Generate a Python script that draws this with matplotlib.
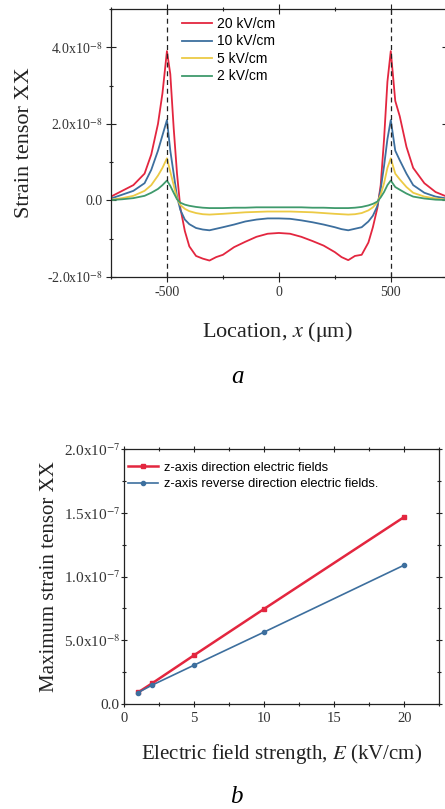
import numpy as np
import matplotlib
matplotlib.use('Agg')
import matplotlib.pyplot as plt
from matplotlib.ticker import FixedLocator, MultipleLocator, FuncFormatter

plt.rcParams['font.family'] = ['Liberation Serif', 'DejaVu Serif']
plt.rcParams['mathtext.fontset'] = 'stix'
plt.rcParams['axes.unicode_minus'] = False

# --- panel a data (strain in units of 1e-8) ---
loc_x = [-750, -700, -650, -600, -570, -540, -520, -500, -485, -470, -455, -440, -420, -400,
         -370, -340, -310, -280, -250, -200, -150, -100, -50, 0, 50, 100, 150, 200, 250, 280,
         310, 340, 370, 400, 420, 440, 455, 470, 485, 500, 520, 540, 570, 600, 650, 700, 750]
strain_20 = [0.10, 0.25, 0.40, 0.70, 1.20, 2.00, 2.80, 3.90, 3.30, 1.90, 0.70, -0.20, -0.80, -1.20,
             -1.45, -1.52, -1.57, -1.48, -1.42, -1.22, -1.08, -0.95, -0.87, -0.85, -0.87, -0.95, -1.06, -1.18, -1.35, -1.48,
             -1.56, -1.45, -1.42, -1.10, -0.70, -0.20, 0.40, 1.60, 3.10, 3.90, 2.60, 2.20, 1.40, 0.85, 0.45, 0.22, 0.10]
strain_10 = [0.05, 0.15, 0.25, 0.45, 0.80, 1.30, 1.70, 2.10, 1.30, 0.70, 0.10, -0.25, -0.50, -0.62,
             -0.72, -0.76, -0.78, -0.74, -0.70, -0.63, -0.55, -0.50, -0.47, -0.47, -0.48, -0.52, -0.57, -0.63, -0.70, -0.75,
             -0.78, -0.74, -0.70, -0.55, -0.40, -0.15, 0.30, 0.90, 1.60, 2.10, 1.30, 1.05, 0.70, 0.40, 0.20, 0.10, 0.05]
strain_5 = [0.02, 0.06, 0.12, 0.25, 0.40, 0.65, 0.85, 1.10, 0.75, 0.40, 0.05, -0.12, -0.22, -0.28,
            -0.33, -0.36, -0.37, -0.36, -0.35, -0.33, -0.31, -0.30, -0.29, -0.29, -0.29, -0.30, -0.31, -0.33, -0.35, -0.36,
            -0.37, -0.36, -0.33, -0.26, -0.18, -0.05, 0.15, 0.45, 0.85, 1.10, 0.70, 0.55, 0.35, 0.20, 0.10, 0.05, 0.02]
strain_2 = [0.01, 0.03, 0.06, 0.12, 0.20, 0.30, 0.40, 0.52, 0.38, 0.20, 0.03, -0.06, -0.11, -0.14,
            -0.17, -0.19, -0.20, -0.20, -0.20, -0.19, -0.19, -0.18, -0.18, -0.18, -0.18, -0.18, -0.19, -0.19, -0.20, -0.20,
            -0.20, -0.19, -0.17, -0.13, -0.09, -0.03, 0.08, 0.22, 0.40, 0.52, 0.35, 0.28, 0.18, 0.10, 0.05, 0.02, 0.01]
series_labels = ['20 kV/cm', '10 kV/cm', '5 kV/cm', '2 kV/cm']
series_colors = ['#e3263f', '#3d6f9e', '#ecca45', '#3f9a6c']

# --- panel b data ---
field_E = [1, 2, 5, 10, 20]
max_strain_fwd = [0.91e-8, 1.62e-8, 3.83e-8, 7.47e-8, 1.469e-7]
max_strain_rev = [0.90e-8, 1.48e-8, 3.05e-8, 5.65e-8, 1.091e-7]


def sci_fmt(v, pos):
    if abs(v) < 1e-15:
        return '0.0'
    exp = int(np.floor(np.log10(abs(v))))
    mant = v / 10 ** exp
    return r'%.1fx10$^{%d}$' % (mant, exp)


def style_ax(ax, xsize, ysize, ypad, maj_len):
    ax.tick_params(which='both', direction='inout', top=True, right=True,
                   labelcolor='#333333', width=0.8, color='#222222')
    ax.tick_params(which='major', length=maj_len)
    ax.tick_params(which='minor', length=maj_len * 0.5)
    ax.tick_params(axis='x', labelsize=xsize, pad=3)
    ax.tick_params(axis='y', labelsize=ysize, pad=ypad)
    for s in ax.spines.values():
        s.set_linewidth(0.9)
        s.set_color('#222222')


fig = plt.figure(figsize=(4.45, 8.09), dpi=100)

# panel a
ax1 = fig.add_axes([0.2494, 0.6576, 0.7545, 0.3313])
yscale = 1e-8
for ys, lab, col in zip([strain_20, strain_10, strain_5, strain_2], series_labels, series_colors):
    ax1.plot(loc_x, np.array(ys) * yscale, color=col, lw=1.3, label=lab)
ax1.axvline(-500, color='#222222', ls='--', lw=0.9, dashes=(4, 3))
ax1.axvline(500, color='#222222', ls='--', lw=0.9, dashes=(4, 3))
ax1.set_xlim(-750, 750)
ax1.set_ylim(-2e-8, 5e-8)
ax1.xaxis.set_major_locator(FixedLocator([-500, 0, 500]))
ax1.xaxis.set_minor_locator(MultipleLocator(250))
ax1.yaxis.set_major_locator(FixedLocator([-2e-8, 0, 2e-8, 4e-8]))
ax1.yaxis.set_minor_locator(MultipleLocator(1e-8))
ax1.yaxis.set_major_formatter(FuncFormatter(sci_fmt))
style_ax(ax1, 10, 10, 2.5, 7)
ax1.set_ylabel('Strain tensor XX', fontsize=16, color='#222222')
ax1.yaxis.set_label_coords(-0.23, 0.5)
ax1.set_xlabel(r'Location, $\mathit{x}$ ($\mathrm{\mu}$m)', fontsize=16, color='#222222')
ax1.xaxis.set_label_coords(0.494, -0.16)
ax1.legend(loc='upper left', bbox_to_anchor=(0.211, 0.97), frameon=False,
           prop={'family': 'Liberation Sans', 'size': 10}, handlelength=2.2,
           handletextpad=0.35, labelspacing=0.25, borderaxespad=0, borderpad=0)
fig.text(237 / 445, 1 - 377 / 809, 'a', fontsize=18, style='italic', ha='center', va='center')

# panel b
ax2 = fig.add_axes([0.2787, 0.1298, 0.7085, 0.3148])
ax2.plot(field_E, max_strain_fwd, color='#e3263f', lw=1.8, marker='s', ms=3.5,
         label='z-axis direction electric fields')
ax2.plot(field_E, max_strain_rev, color='#3d6f9e', lw=1.2, marker='o', ms=3,
         label='z-axis reverse direction electric fields.')
ax2.set_xlim(0, 22.5)
ax2.set_ylim(0, 2e-7)
ax2.xaxis.set_major_locator(FixedLocator([0, 5, 10, 15, 20]))
ax2.xaxis.set_minor_locator(MultipleLocator(2.5))
ax2.yaxis.set_major_locator(MultipleLocator(5e-8))
ax2.yaxis.set_minor_locator(MultipleLocator(2.5e-8))
ax2.yaxis.set_major_formatter(FuncFormatter(sci_fmt))
style_ax(ax2, 10.5, 11, 0.5, 5)
ax2.set_ylabel('Maximum strain tensor XX', fontsize=15, color='#222222')
ax2.yaxis.set_label_coords(-0.205, 0.5)
ax2.set_xlabel(r'Electric field strength, $\mathit{E}$ (kV/cm)', fontsize=15, color='#222222')
ax2.xaxis.set_label_coords(0.501, -0.149)
ax2.legend(loc='upper left', bbox_to_anchor=(0.013, 0.952), frameon=False,
           prop={'family': 'Liberation Sans', 'size': 9.3}, handlelength=2.3,
           handletextpad=0.5, labelspacing=0.35, borderaxespad=0, borderpad=0)
fig.text(236 / 445, 1 - 797 / 809, 'b', fontsize=18, style='italic', ha='center', va='center')

fig.savefig('out.png', dpi=100)
